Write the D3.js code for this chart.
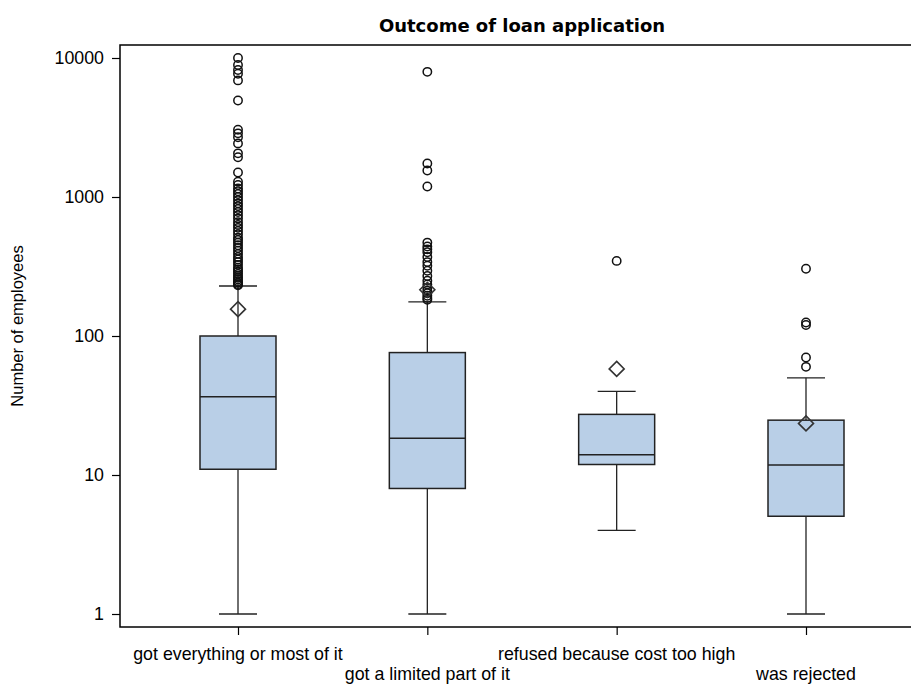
<!DOCTYPE html>
<html>
<head>
<meta charset="utf-8">
<script src="https://cdn.jsdelivr.net/npm/d3@7"></script>
<style>
  body { margin: 0; background: #fff; }
  text { font-family: "Liberation Sans", Arial, sans-serif; fill: #000; }
</style>
</head>
<body>
<svg id="chart" width="911" height="684"></svg>
<script>
// categories and box stats
var categories = ["got everything or most of it", "got a limited part of it",
                  "refused because cost too high", "was rejected"];
var whiskerLow  = [1, 1, 4, 1];
var q1          = [11, 8, 11.9, 5.05];
var medians     = [36.5, 18.4, 14, 11.8];
var q3          = [100, 76, 27.3, 24.8];
var whiskerHigh = [229, 176, 40, 50];
var means       = [156, 215, 58, 23.5];

// outliers per group
var outGot = [10000, 8900, 8200, 7700, 6900, 4950, 3050, 2870, 2690, 2430, 2060, 1930, 1500,
              1290, 1220, 1150, 1100, 1050, 1000, 950, 900, 860, 820, 780, 740, 700, 660, 630,
              600, 570, 540, 510, 490, 470, 450, 430, 410, 390, 370, 355, 340, 325, 310, 300,
              290, 280, 270, 262, 255, 248, 242, 236, 232];
var outLimited = [7950, 1740, 1550, 1190, 470, 440, 420, 400, 370, 340, 320, 295, 270, 250,
                  235, 222, 212, 203, 195, 188, 182];
var outRefused = [347];
var outRejected = [305, 125, 120, 70, 60];
var outliers = [outGot, outLimited, outRefused, outRejected];

var yTicks = [1, 10, 100, 1000, 10000];

///////////////////////
// layout
var margin = {top: 45, left: 120, bottom: 57, right: 0},
  w = 911 - margin.left - margin.right,
  h = 684 - margin.top - margin.bottom,
  boxW = 76,
  capW = 38;

var svg = d3.select('#chart');
var g = svg.append('g').attr('transform', 'translate(' + margin.left + ',' + margin.top + ')');

var x = d3.scalePoint().domain(categories).range([118, 686]);
var y = d3.scaleLog().domain([1, 10000]).range([569, 13]);

// frame
g.append('rect')
  .attr('x', 0).attr('y', 0)
  .attr('width', w + 2).attr('height', h)
  .attr('fill', 'none').attr('stroke', '#000').attr('stroke-width', 1.5);

// y axis
var yAxis = g.append('g')
  .call(d3.axisLeft(y).tickValues(yTicks).tickFormat(d3.format('d')).tickSize(8).tickPadding(8));
yAxis.select('.domain').remove();
yAxis.selectAll('line').attr('stroke', '#000').attr('stroke-width', 1.2);
yAxis.selectAll('text').style('font-size', '17.8px').attr('font-family', null);

// x axis
var xAxis = g.append('g').attr('transform', 'translate(0,' + h + ')')
  .call(d3.axisBottom(x).tickSize(8).tickPadding(0).tickFormat(''));
xAxis.select('.domain').remove();
xAxis.selectAll('line').attr('stroke', '#000').attr('stroke-width', 1.2);

g.selectAll('.xlab')
  .data(categories)
  .enter().append('text')
  .attr('class', 'xlab')
  .attr('x', function(d) { return x(d); })
  .attr('y', function(d, i) { return h + (i % 2 === 0 ? 33 : 53); })
  .attr('text-anchor', 'middle')
  .style('font-size', '17.8px')
  .text(function(d) { return d; });

// boxes
var groups = g.selectAll('.grp')
  .data(categories)
  .enter().append('g')
  .attr('class', 'grp')
  .attr('transform', function(d) { return 'translate(' + x(d) + ',0)'; });

// whisker stems
groups.append('line')
  .attr('x1', 0).attr('x2', 0)
  .attr('y1', function(d, i) { return y(whiskerLow[i]); })
  .attr('y2', function(d, i) { return y(whiskerHigh[i]); })
  .attr('stroke', '#222').attr('stroke-width', 1.3);

// caps
[whiskerLow, whiskerHigh].forEach(function(arr) {
  groups.append('line')
    .attr('x1', -capW / 2).attr('x2', capW / 2)
    .attr('y1', function(d, i) { return y(arr[i]); })
    .attr('y2', function(d, i) { return y(arr[i]); })
    .attr('stroke', '#222').attr('stroke-width', 1.3);
});

groups.append('rect')
  .attr('x', -boxW / 2)
  .attr('width', boxW)
  .attr('y', function(d, i) { return y(q3[i]); })
  .attr('height', function(d, i) { return y(q1[i]) - y(q3[i]); })
  .attr('fill', '#b9cfe7')
  .attr('stroke', '#222').attr('stroke-width', 1.5);

groups.append('line')
  .attr('x1', -boxW / 2).attr('x2', boxW / 2)
  .attr('y1', function(d, i) { return y(medians[i]); })
  .attr('y2', function(d, i) { return y(medians[i]); })
  .attr('stroke', '#222').attr('stroke-width', 1.5);

// outliers
groups.selectAll('circle')
  .data(function(d, i) { return outliers[i]; })
  .enter().append('circle')
  .attr('cx', 0)
  .attr('cy', function(v) { return y(v); })
  .attr('r', 4.2)
  .attr('fill', 'none')
  .attr('stroke', '#111').attr('stroke-width', 1.5);

// mean diamonds
groups.append('path')
  .attr('d', function(d, i) {
    var cy = y(means[i]), s = 7.5;
    return 'M0,' + (cy - s) + 'L' + s + ',' + cy + 'L0,' + (cy + s) + 'L' + (-s) + ',' + cy + 'Z';
  })
  .attr('fill', 'none')
  .attr('stroke', '#333').attr('stroke-width', 1.6);

// title
svg.append('text')
  .attr('x', 522).attr('y', 32)
  .attr('text-anchor', 'middle')
  .style('font-family', '"DejaVu Sans", sans-serif')
  .style('font-size', '18px').style('font-weight', 'bold')
  .text('Outcome of loan application');

// y label
svg.append('text')
  .attr('transform', 'translate(23,' + 326 + ') rotate(-90)')
  .attr('text-anchor', 'middle')
  .style('font-size', '16.5px')
  .text('Number of employees');
</script>
</body>
</html>
